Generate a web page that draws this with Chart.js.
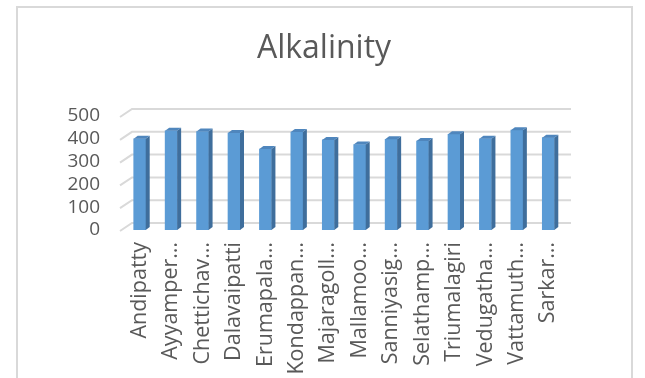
<!DOCTYPE html>
<html>
<head>
<meta charset="utf-8">
<title>Alkalinity</title>
<script src="https://cdn.jsdelivr.net/npm/chart.js@4"></script>
<style>
  html, body { margin: 0; padding: 0; background: #fff; }
  #wrap { width: 645px; height: 378px; position: relative; }
</style>
</head>
<body>
<div id="wrap"><canvas id="chart-canvas" width="645" height="378"></canvas></div>
<script>
// Alkalinity by village, drawn as 3-D style columns.
var villages = [
  "Andipatty", "Ayyamper\u2026", "Chettichav\u2026", "Dalavaipatti", "Erumapala\u2026",
  "Kondappan\u2026", "Majaragoll\u2026", "Mallamoo\u2026", "Sanniyasig\u2026", "Selathamp\u2026",
  "Triumalagiri", "Vedugatha\u2026", "Vattamuth\u2026", "Sarkar\u2026"
];
var alkalinity = [400, 435, 432, 425, 355, 430, 395, 375, 398, 390, 420, 400, 438, 405];
var yTicks = [0, 100, 200, 300, 400, 500];
var chartTitle = "Alkalinity";

var INK = "#595959";
var GRID = "#d9d9d9";
var FRONT = "#5b9bd5";
var SIDE = "#3f6e9c";
var TOP = "#4f86bd";
var FONT = "'Open Sans', sans-serif";
var DEPTH = { dx: 4, dy: 3 };      // bar extrusion
var WALL = { dx: 12, dy: 8 };      // back wall offset for gridlines

// outer frame of the chart box plus the title, centred on the frame
var framePlugin = {
  id: "frame",
  beforeDraw: function (chart) {
    var c = chart.ctx;
    c.save();
    c.strokeStyle = GRID;
    c.lineWidth = 2;
    c.strokeRect(17, 7, 615, 420);
    c.fillStyle = INK;
    c.font = "32px " + FONT;
    c.textAlign = "center";
    c.textBaseline = "middle";
    c.fillText(chartTitle, 324, 49);
    c.restore();
  }
};

// gridlines on the side wall and back wall
var wallPlugin = {
  id: "walls",
  beforeDatasetsDraw: function (chart) {
    var c = chart.ctx, a = chart.chartArea, y = chart.scales.y;
    c.save();
    c.strokeStyle = GRID;
    c.lineWidth = 2;
    yTicks.forEach(function (v) {
      var py = y.getPixelForValue(v);
      c.beginPath();
      c.moveTo(a.left - 4, py + 1);
      c.lineTo(a.left - 4 + WALL.dx, py + 1 - WALL.dy);
      c.lineTo(a.right + 7, py + 1 - WALL.dy);
      c.stroke();
    });
    c.restore();
  }
};

// side and top faces for each column
var extrudePlugin = {
  id: "extrude",
  afterDatasetsDraw: function (chart) {
    var c = chart.ctx;
    var meta = chart.getDatasetMeta(0);
    c.save();
    meta.data.forEach(function (bar) {
      var p = bar.getProps(["x", "y", "base", "width"], true);
      var l = p.x - p.width / 2, r = p.x + p.width / 2;
      c.fillStyle = SIDE;
      c.beginPath();
      c.moveTo(r, p.y);
      c.lineTo(r + DEPTH.dx, p.y - DEPTH.dy);
      c.lineTo(r + DEPTH.dx, p.base - DEPTH.dy);
      c.lineTo(r, p.base);
      c.closePath();
      c.fill();
      c.fillStyle = TOP;
      c.beginPath();
      c.moveTo(l, p.y);
      c.lineTo(l + DEPTH.dx, p.y - DEPTH.dy);
      c.lineTo(r + DEPTH.dx, p.y - DEPTH.dy);
      c.lineTo(r, p.y);
      c.closePath();
      c.fill();
    });
    c.restore();
  }
};

new Chart(document.getElementById("chart-canvas").getContext("2d"), {
  type: "bar",
  data: {
    labels: villages,
    datasets: [{
      label: "Alkalinity",
      data: alkalinity,
      backgroundColor: FRONT,
      borderWidth: 0,
      barThickness: 12
    }]
  },
  options: {
    responsive: false,
    animation: false,
    layout: { padding: { left: 0, right: 81, top: 116, bottom: 0 } },
    plugins: {
      legend: { display: false },
      tooltip: { enabled: false },
      title: { display: false }
    },
    scales: {
      x: {
        grid: { display: false, drawTicks: false },
        border: { display: false },
        ticks: {
          color: INK,
          autoSkip: false,
          minRotation: 90,
          maxRotation: 90,
          padding: 12,
          font: { family: FONT, size: 21.5 }
        },
        afterFit: function (s) { s.height = 148; }
      },
      y: {
        min: 0,
        max: 500,
        afterBuildTicks: function (s) { s.ticks = yTicks.map(function (v) { return { value: v }; }); },
        grid: { display: false, drawTicks: false },
        border: { display: false },
        ticks: {
          color: INK,
          autoSkip: false,
          padding: 24,
          font: { family: FONT, size: 19 }
        },
        afterFit: function (s) { s.width = 124; }
      }
    }
  },
  plugins: [framePlugin, wallPlugin, extrudePlugin]
});
</script>
</body>
</html>
